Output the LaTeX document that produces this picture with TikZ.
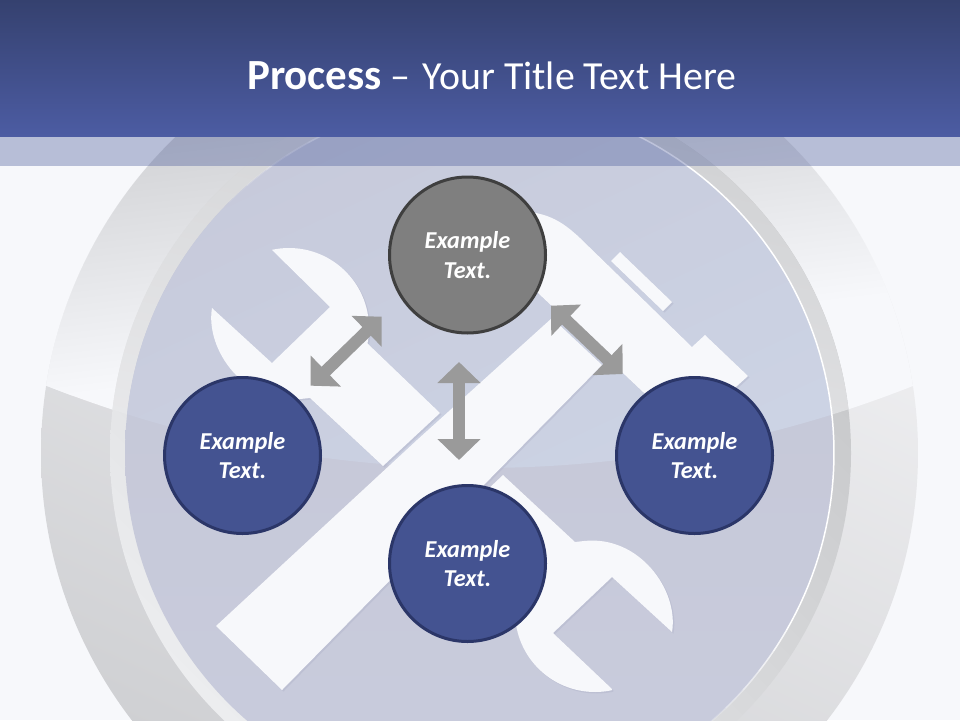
\documentclass[tikz,border=0pt]{standalone}
\usepackage{fontspec}
\setmainfont{Carlito}
\usetikzlibrary{arrows.meta}
\definecolor{pagebg}{RGB}{247,248,251}
\definecolor{headtop}{RGB}{53,65,111}
\definecolor{headbot}{RGB}{76,92,163}
\definecolor{bandc}{RGB}{76,92,155}
\definecolor{toolc}{RGB}{247,248,251}
\definecolor{toolshadow}{RGB}{180,183,204}
\definecolor{arrowc}{RGB}{154,154,154}
\definecolor{bluefill}{RGB}{68,83,145}
\definecolor{blueline}{RGB}{43,54,104}
\definecolor{grayfill}{RGB}{127,127,127}
\definecolor{grayline}{RGB}{63,63,63}
\definecolor{outerlowA}{RGB}{245,245,247}
\definecolor{outerlowB}{RGB}{205,206,209}
\definecolor{outerglA}{RGB}{197,198,201}
\definecolor{midlowA}{RGB}{197,198,200}
\definecolor{midlowB}{RGB}{236,237,239}
\definecolor{midglA}{RGB}{208,209,211}
\definecolor{midglM}{RGB}{243,244,246}
\definecolor{midglB}{RGB}{250,250,252}
\definecolor{innlowA}{RGB}{196,198,213}
\definecolor{innlowB}{RGB}{201,204,221}
\definecolor{inngloA}{RGB}{199,202,219}
\definecolor{inngloM}{RGB}{203,209,227}
\definecolor{inngloB}{RGB}{207,216,233}
\tikzset{
  stepcircle/.style={circle,minimum size=156pt,inner sep=0pt,line width=3pt,
    text=white,align=center,font=\fontsize{24.3}{29.5}\selectfont\bfseries\itshape},
  bluecircle/.style={stepcircle,draw=blueline,fill=bluefill},
  graycircle/.style={stepcircle,draw=grayline,fill=grayfill},
  blockarrow/.style={draw=arrowc,line width=12pt,
    {Triangle[width=42pt,length=21pt,fill=arrowc]}-{Triangle[width=42pt,length=21pt,fill=arrowc]}},
  toolfill/.style={fill=toolc},
  toolshade/.style={fill=toolshadow,fill opacity=.5,shift={(1.5,1.5)}}
}
\def\wrenchA{(272,250) -- (330,307) -- (272,363) -- (212,308)
  .. controls (205,350) and (245,405) .. (300,399) -- (310,398)
  -- (383,466) -- (440,413) -- (367,343)
  -- plot[domain=-11:102,samples=40] ({289+80*cos(\x)},{328-80*sin(\x)}) -- cycle}
\def\wrenchB{(503,475) -- (575,542) -- (584,541)
  .. controls (639,535) and (679,590) .. (672,632)
  -- (612,577) -- (553,633) -- (612,689)
  -- plot[domain=282:169,samples=40] ({595+80*cos(\x)},{612-80*sin(\x)})
  -- (505,600) -- (486,491) -- cycle}
\def\handle{(216,626) -- (282,690) -- (602,365) -- (552,318) -- (417,440) -- cycle}
\def\hammerhead{(500,250) -- (530,212) .. controls (552,215) and (565,224) .. (580,238)
  -- (692,347) -- (705,335) -- (748,376) -- (685,433) -- (643,392) -- (538,293) -- (500,290) -- cycle}
\def\strip{(620,252) -- (672,302) -- (663,311) -- (611,261) -- cycle}
\begin{document}
\begin{tikzpicture}[x=1pt,y=-1pt]
\useasboundingbox (0,0) rectangle (960,720);
\begin{scope}
\clip (0,0) rectangle (960,720);
\fill[pagebg] (0,0) rectangle (960,720);
% outer ring
\begin{scope}
  \clip (479.5,453) circle[radius=438.5];
  \shade[top color=outerlowA,bottom color=outerlowB,shading angle=-25] (41,14.5) rectangle (918,891.5);
  \clip (480,-711) circle[radius=1179];
  \fill[pagebg] (0,0) rectangle (960,720);
  \begin{scope}[transform canvas={rotate around={7:(480,300)}}]
    \shade[top color=outerglA,bottom color=pagebg] (-500,14) rectangle (1500,345);
  \end{scope}
\end{scope}
% middle ring
\begin{scope}
  \clip (480.5,453) circle[radius=370.5];
  \shade[top color=midlowA,bottom color=midlowB,shading angle=-45] (110,82.5) rectangle (851,823.5);
  \clip (480,-711) circle[radius=1179];
  \shade[top color=midglA,middle color=midglM,bottom color=midglB,shading angle=-13] (110,82.5) rectangle (851,823.5);
\end{scope}
% inner disc
\begin{scope}
  \clip (479.5,453) circle[radius=354.5];
  \shade[top color=innlowA,bottom color=innlowB] (125,98) rectangle (834,808);
  \clip (480,-711) circle[radius=1179];
  \shade[top color=inngloA,middle color=inngloM,bottom color=inngloB,shading angle=25] (125,98) rectangle (834,807);
\end{scope}
% white rim
\draw[white,line width=1.5pt] plot[domain=64:-30,samples=60] ({479.5+354.5*cos(\x)},{453-354.5*sin(\x)});
\foreach \a/\o in {-30/.85,-34/.7,-38/.55,-42/.4,-46/.25,-50/.12}
  \draw[white,line width=1.5pt,opacity=\o] plot[domain=\a:\a-4,samples=6] ({479.5+354.5*cos(\x)},{453-354.5*sin(\x)});
\foreach \a/\o in {115/.6,119/.45,123/.3,127/.18,131/.08}
  \draw[white,line width=1.5pt,opacity=\o] plot[domain=\a:\a+4,samples=6] ({479.5+354.5*cos(\x)},{453-354.5*sin(\x)});
% tools
\fill[toolshade] \wrenchA;
\fill[toolshade] \wrenchB;
\fill[toolshade] \hammerhead;
\fill[toolshade] \strip;
\fill[toolshade] \handle;
\fill[toolfill] \wrenchA;
\fill[toolfill] \wrenchB;
\fill[toolfill] \hammerhead;
\fill[toolfill] \strip;
\fill[toolfill] \handle;
% header
\fill[bandc,opacity=.37] (0,136.5) rectangle (960,166);
\shade[top color=headtop,bottom color=headbot] (0,0) rectangle (960,136.5);
\end{scope}
\node[text=white,font=\fontsize{40}{44}\selectfont,inner sep=0pt,anchor=base west] (title) at (247,89) {{\fontsize{43}{44}\selectfont\bfseries Process} – {\kern3pt\fontsize{39.8}{44}\selectfont Your Title Text Here}};
% circles
\node[graycircle] (top) at (467.5,255) {Example\\Text.};
\node[bluecircle] (left) at (242.5,455.5) {Example\\Text.};
\node[bluecircle] (right) at (694.5,455.5) {Example\\Text.};
\node[bluecircle] (bottom) at (467.5,563.5) {Example\\Text.};
% arrows
\coordinate (la) at (381.7,316.7);
\coordinate (lb) at (310.7,385.7);
\coordinate (ra) at (551,305.7);
\coordinate (rb) at (622.7,374);
\coordinate (va) at (459,362);
\coordinate (vb) at (459,460);
\draw[blockarrow] (la) -- (lb);
\draw[blockarrow] (ra) -- (rb);
\draw[blockarrow] (va) -- (vb);
\end{tikzpicture}
\end{document}
